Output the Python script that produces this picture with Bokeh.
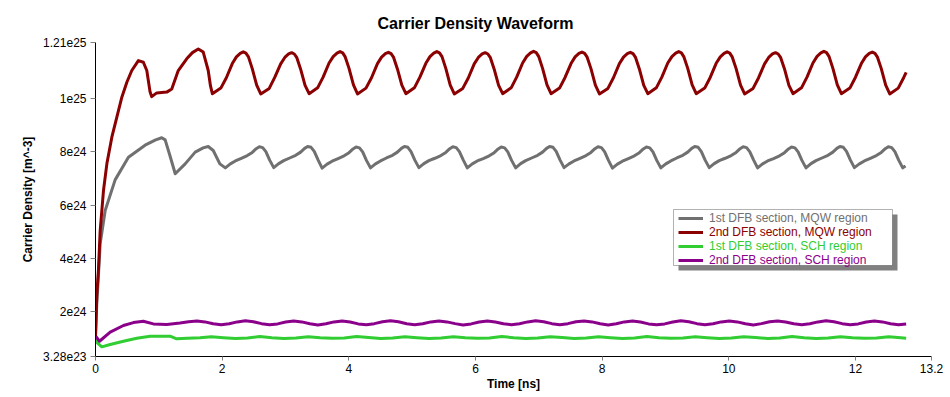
import numpy as np
from bokeh.plotting import figure
from bokeh.models import (Range1d, FixedTicker, CustomJSTickFormatter, Legend,
                          LegendItem, BoxAnnotation)
from bokeh.embed import file_html
from bokeh.resources import INLINE

# ---------------- data (time in ns, density in units of 1e24 m^-3) ----------------
x_ticks = [0, 2, 4, 6, 8, 10, 12, 13.2]
y_ticks = [3.28e23, 2e24, 4e24, 6e24, 8e24, 1e25, 1.21e25]

series_labels = ["1st DFB section, MQW region", "2nd DFB section, MQW region",
                 "1st DFB section, SCH region", "2nd DFB section, SCH region"]
series_colors = ["#707070", "#8B0000", "#32CD32", "#8B008B"]

t_red = [
    0.000, 0.020, 0.047, 0.074, 0.126, 0.180, 0.258, 0.337, 0.416, 0.495,
    0.573, 0.677, 0.756, 0.810, 0.862, 0.888, 0.967, 1.125, 1.204, 1.307,
    1.440, 1.530, 1.623, 1.701, 1.780, 1.815,
    1.845, 1.979, 2.066, 2.160, 2.225, 2.285, 2.333, 2.375, 2.415, 2.475, 2.545,
    2.609, 2.743, 2.830, 2.924, 2.989, 3.049, 3.097, 3.139, 3.179, 3.239, 3.309,
    3.373, 3.507, 3.594, 3.688, 3.753, 3.813, 3.861, 3.903, 3.943, 4.003, 4.073,
    4.137, 4.271, 4.358, 4.452, 4.517, 4.577, 4.625, 4.667, 4.707, 4.767, 4.837,
    4.901, 5.035, 5.122, 5.216, 5.281, 5.341, 5.389, 5.431, 5.471, 5.531, 5.601,
    5.665, 5.799, 5.886, 5.980, 6.045, 6.105, 6.153, 6.195, 6.235, 6.295, 6.365,
    6.429, 6.563, 6.650, 6.744, 6.809, 6.869, 6.917, 6.959, 6.999, 7.059, 7.129,
    7.193, 7.327, 7.414, 7.508, 7.573, 7.633, 7.681, 7.723, 7.763, 7.823, 7.893,
    7.957, 8.091, 8.178, 8.272, 8.337, 8.397, 8.445, 8.487, 8.527, 8.587, 8.657,
    8.721, 8.855, 8.942, 9.036, 9.101, 9.161, 9.209, 9.251, 9.291, 9.351, 9.421,
    9.485, 9.619, 9.706, 9.800, 9.865, 9.925, 9.973, 10.015, 10.055, 10.115, 10.185,
    10.249, 10.383, 10.470, 10.564, 10.629, 10.689, 10.737, 10.779, 10.819, 10.879, 10.949,
    11.013, 11.147, 11.234, 11.328, 11.393, 11.453, 11.501, 11.543, 11.583, 11.643, 11.713,
    11.777, 11.911, 11.998, 12.092, 12.157, 12.217, 12.265, 12.307, 12.347, 12.407, 12.477,
    12.541, 12.675, 12.762, 12.800]
red_e24 = [
    1.10, 2.60, 3.60, 5.05, 6.55, 7.56, 8.55, 9.30, 10.05, 10.61,
    11.05, 11.42, 11.36, 11.05, 10.24, 10.07, 10.21, 10.24, 10.36, 11.05,
    11.49, 11.72, 11.86, 11.74, 11.05, 10.48,
    10.18, 10.39, 10.78, 11.31, 11.56, 11.69, 11.75, 11.70, 11.56, 11.12, 10.50,
    10.17, 10.38, 10.79, 11.30, 11.54, 11.67, 11.72, 11.67, 11.53, 11.10, 10.49,
    10.18, 10.40, 10.80, 11.33, 11.57, 11.70, 11.76, 11.71, 11.56, 11.13, 10.51,
    10.17, 10.39, 10.78, 11.31, 11.55, 11.68, 11.73, 11.68, 11.54, 11.11, 10.50,
    10.18, 10.40, 10.80, 11.32, 11.57, 11.70, 11.76, 11.71, 11.57, 11.13, 10.50,
    10.17, 10.38, 10.77, 11.30, 11.54, 11.67, 11.72, 11.67, 11.53, 11.10, 10.49,
    10.18, 10.40, 10.80, 11.33, 11.58, 11.71, 11.77, 11.72, 11.57, 11.13, 10.51,
    10.18, 10.39, 10.79, 11.31, 11.56, 11.69, 11.74, 11.69, 11.55, 11.12, 10.50,
    10.17, 10.38, 10.78, 11.31, 11.55, 11.68, 11.73, 11.68, 11.54, 11.11, 10.49,
    10.18, 10.40, 10.80, 11.33, 11.57, 11.70, 11.76, 11.71, 11.56, 11.13, 10.51,
    10.18, 10.39, 10.79, 11.32, 11.56, 11.69, 11.75, 11.70, 11.55, 11.12, 10.50,
    10.17, 10.38, 10.78, 11.30, 11.54, 11.67, 11.72, 11.67, 11.53, 11.11, 10.49,
    10.18, 10.40, 10.80, 11.33, 11.58, 11.71, 11.77, 11.72, 11.57, 11.13, 10.51,
    10.18, 10.39, 10.79, 11.31, 11.56, 11.69, 11.74, 11.69, 11.55, 11.12, 10.50,
    10.17, 10.39, 10.79, 10.98]

t_gray = [
    0.000, 0.020, 0.047, 0.074, 0.153, 0.310, 0.520, 0.783, 0.950, 1.046,
    1.100, 1.170, 1.259, 1.416, 1.574, 1.700, 1.780, 1.859, 1.964,
    2.050, 2.129, 2.208, 2.302, 2.397, 2.475, 2.538, 2.586, 2.640, 2.690, 2.750,
    2.814, 2.893, 2.972, 3.066, 3.161, 3.239, 3.302, 3.350, 3.404, 3.454, 3.514,
    3.578, 3.657, 3.736, 3.830, 3.925, 4.003, 4.066, 4.114, 4.168, 4.218, 4.278,
    4.342, 4.421, 4.500, 4.594, 4.689, 4.767, 4.830, 4.878, 4.932, 4.982, 5.042,
    5.106, 5.185, 5.264, 5.358, 5.453, 5.531, 5.594, 5.642, 5.696, 5.746, 5.806,
    5.870, 5.949, 6.028, 6.122, 6.217, 6.295, 6.358, 6.406, 6.460, 6.510, 6.570,
    6.634, 6.713, 6.792, 6.886, 6.981, 7.059, 7.122, 7.170, 7.224, 7.274, 7.334,
    7.398, 7.477, 7.556, 7.650, 7.745, 7.823, 7.886, 7.934, 7.988, 8.038, 8.098,
    8.162, 8.241, 8.320, 8.414, 8.509, 8.587, 8.650, 8.698, 8.752, 8.802, 8.862,
    8.926, 9.005, 9.084, 9.178, 9.273, 9.351, 9.414, 9.462, 9.516, 9.566, 9.626,
    9.690, 9.769, 9.848, 9.942, 10.037, 10.115, 10.178, 10.226, 10.280, 10.330, 10.390,
    10.454, 10.533, 10.612, 10.706, 10.801, 10.879, 10.942, 10.990, 11.044, 11.094, 11.154,
    11.218, 11.297, 11.376, 11.470, 11.565, 11.643, 11.706, 11.754, 11.808, 11.858, 11.918,
    11.982, 12.061, 12.140, 12.234, 12.329, 12.407, 12.470, 12.518, 12.572, 12.622, 12.682,
    12.746, 12.790]
gray_e24 = [
    1.10, 2.30, 3.40, 4.55, 5.80, 6.95, 7.80, 8.25, 8.45, 8.53,
    8.45, 7.90, 7.18, 7.55, 7.99, 8.15, 8.20, 8.05, 7.55,
    7.40, 7.55, 7.66, 7.76, 7.86, 7.98, 8.12, 8.19, 8.16, 8.01, 7.69,
    7.41, 7.56, 7.67, 7.77, 7.87, 7.99, 8.13, 8.20, 8.17, 8.02, 7.70,
    7.39, 7.54, 7.65, 7.75, 7.85, 7.97, 8.11, 8.18, 8.15, 8.00, 7.68,
    7.40, 7.55, 7.66, 7.77, 7.87, 7.99, 8.13, 8.20, 8.17, 8.01, 7.69,
    7.41, 7.56, 7.67, 7.76, 7.86, 7.98, 8.12, 8.19, 8.16, 8.01, 7.70,
    7.40, 7.55, 7.66, 7.75, 7.85, 7.97, 8.11, 8.18, 8.15, 8.00, 7.68,
    7.40, 7.56, 7.67, 7.77, 7.87, 7.99, 8.13, 8.20, 8.17, 8.02, 7.70,
    7.41, 7.55, 7.66, 7.76, 7.86, 7.98, 8.12, 8.19, 8.16, 8.01, 7.69,
    7.39, 7.54, 7.65, 7.75, 7.85, 7.97, 8.11, 8.18, 8.15, 8.00, 7.68,
    7.40, 7.55, 7.66, 7.77, 7.87, 7.99, 8.13, 8.20, 8.17, 8.01, 7.69,
    7.41, 7.56, 7.67, 7.76, 7.86, 7.98, 8.12, 8.19, 8.16, 8.01, 7.70,
    7.40, 7.55, 7.66, 7.75, 7.85, 7.97, 8.11, 8.18, 8.15, 8.00, 7.68,
    7.40, 7.56, 7.67, 7.77, 7.87, 7.99, 8.13, 8.20, 8.17, 8.02, 7.70,
    7.41, 7.55, 7.66, 7.76, 7.86, 7.98, 8.12, 8.19, 8.16, 8.01, 7.69,
    7.40, 7.47]

t_purple = [
    0.000, 0.063, 0.232, 0.441, 0.599, 0.756, 0.914, 1.125, 1.334, 1.470,
    1.602, 1.729, 1.857, 1.984, 2.111, 2.239,
    2.366, 2.493, 2.621, 2.748, 2.875, 3.003,
    3.130, 3.257, 3.385, 3.512, 3.639, 3.767,
    3.894, 4.021, 4.149, 4.276, 4.403, 4.531,
    4.658, 4.785, 4.913, 5.040, 5.167, 5.295,
    5.422, 5.549, 5.677, 5.804, 5.931, 6.059,
    6.186, 6.313, 6.441, 6.568, 6.695, 6.823,
    6.950, 7.077, 7.205, 7.332, 7.459, 7.587,
    7.714, 7.841, 7.969, 8.096, 8.223, 8.351,
    8.478, 8.605, 8.733, 8.860, 8.987, 9.115,
    9.242, 9.369, 9.497, 9.624, 9.751, 9.879,
    10.006, 10.133, 10.261, 10.388, 10.515, 10.643,
    10.770, 10.897, 11.025, 11.152, 11.279, 11.407,
    11.534, 11.661, 11.789, 11.916, 12.043, 12.171,
    12.298, 12.425, 12.553, 12.680, 12.800]
purple_e24 = [
    1.10, 0.90, 1.24, 1.49, 1.60, 1.65, 1.55, 1.53, 1.58, 1.63,
    1.66, 1.625, 1.555, 1.52, 1.555, 1.625,
    1.67, 1.63, 1.56, 1.52, 1.55, 1.62,
    1.66, 1.625, 1.555, 1.51, 1.555, 1.625,
    1.66, 1.62, 1.55, 1.52, 1.56, 1.63,
    1.67, 1.63, 1.555, 1.52, 1.555, 1.625,
    1.66, 1.625, 1.56, 1.51, 1.55, 1.62,
    1.66, 1.62, 1.555, 1.52, 1.555, 1.625,
    1.67, 1.63, 1.56, 1.52, 1.56, 1.63,
    1.66, 1.625, 1.555, 1.51, 1.555, 1.625,
    1.66, 1.62, 1.55, 1.52, 1.55, 1.62,
    1.67, 1.63, 1.56, 1.52, 1.555, 1.625,
    1.66, 1.625, 1.555, 1.51, 1.56, 1.63,
    1.66, 1.62, 1.555, 1.52, 1.555, 1.625,
    1.67, 1.63, 1.56, 1.52, 1.55, 1.62,
    1.66, 1.625, 1.555, 1.52, 1.545]

t_green = [
    0.000, 0.020, 0.100, 0.232, 0.441, 0.652, 0.862, 1.177, 1.282, 1.450, 1.650,
    1.830, 2.020, 2.210, 2.400,
    2.594, 2.784, 2.974, 3.164,
    3.358, 3.548, 3.738, 3.928,
    4.122, 4.312, 4.502, 4.692,
    4.886, 5.076, 5.266, 5.456,
    5.650, 5.840, 6.030, 6.220,
    6.414, 6.604, 6.794, 6.984,
    7.178, 7.368, 7.558, 7.748,
    7.942, 8.132, 8.322, 8.512,
    8.706, 8.896, 9.086, 9.276,
    9.470, 9.660, 9.850, 10.040,
    10.234, 10.424, 10.614, 10.804,
    10.998, 11.188, 11.378, 11.568,
    11.762, 11.952, 12.142, 12.332,
    12.526, 12.716, 12.800]
green_e24 = [
    1.00, 0.86, 0.69, 0.78, 0.90, 1.01, 1.09, 1.09, 0.99, 1.01, 1.03,
    1.07, 1.03, 1.00, 1.02,
    1.08, 1.03, 1.00, 1.02,
    1.07, 1.03, 1.01, 1.02,
    1.08, 1.04, 1.00, 1.02,
    1.07, 1.03, 1.00, 1.02,
    1.07, 1.03, 1.01, 1.02,
    1.08, 1.03, 1.00, 1.02,
    1.07, 1.04, 1.00, 1.02,
    1.07, 1.03, 1.00, 1.02,
    1.08, 1.03, 1.01, 1.02,
    1.07, 1.03, 1.00, 1.02,
    1.07, 1.04, 1.00, 1.02,
    1.08, 1.03, 1.00, 1.02,
    1.07, 1.03, 1.01, 1.02,
    1.07, 1.03, 1.01]

# ---------------- figure ----------------
FONT = "Liberation Sans"

p = figure(width=944, height=394, output_backend="svg", toolbar_location=None,
           x_range=Range1d(0, 13.2), y_range=Range1d(3.28e23, 1.21e25),
           min_border_left=95, min_border_right=13, min_border_top=42,
           min_border_bottom=38, title="Carrier Density Waveform")
p.outline_line_color = None
p.background_fill_color = "white"
p.border_fill_color = "white"
p.xgrid.visible = False
p.ygrid.visible = False

p.title.text_font = FONT
p.title.text_font_size = "16px"
p.title.text_font_style = "bold"
p.title.text_color = "black"
p.title.align = "left"
p.title.offset = 282
p.title.standoff = 21

for ax in (p.xaxis[0], p.yaxis[0]):
    ax.axis_line_color = "black"
    ax.axis_line_width = 1
    ax.major_tick_line_color = "#808080"
    ax.major_tick_in = 0
    ax.minor_tick_line_color = None
    ax.major_label_text_font = FONT
    ax.major_label_text_font_size = "12px"
    ax.major_label_text_color = "black"
    ax.axis_label_text_font = FONT
    ax.axis_label_text_font_size = "12px"
    ax.axis_label_text_font_style = "bold"
    ax.axis_label_text_color = "black"

p.xaxis.ticker = FixedTicker(ticks=x_ticks)
p.yaxis.ticker = FixedTicker(ticks=y_ticks)
p.xaxis.formatter = CustomJSTickFormatter(code="return tick.toString()")
p.yaxis.formatter = CustomJSTickFormatter(code="return tick.toExponential().replace('+', '')")
p.xaxis.major_tick_out = 4
p.xaxis.major_label_standoff = 3
p.xaxis.axis_label_standoff = 1
p.yaxis.major_tick_out = 5
p.yaxis.major_label_standoff = 4
p.yaxis.axis_label_standoff = 5
p.xaxis.axis_label = "Time [ns]"
p.yaxis.axis_label = "Carrier Density [m^-3]"

ts = [t_gray, t_red, t_green, t_purple]
vs = [gray_e24, red_e24, green_e24, purple_e24]
renderers = [None] * 4
for i in (2, 3, 0, 1):
    renderers[i] = p.line(ts[i], np.array(vs[i]) * 1e24, line_color=series_colors[i],
                          line_width=3, line_join="round")

# legend frame with shadow (canvas pixel units)
p.add_layout(BoxAnnotation(left=678, right=897, top=214, bottom=270,
                           left_units="canvas", right_units="canvas",
                           top_units="canvas", bottom_units="canvas",
                           fill_color="#808080", fill_alpha=1.0, line_color=None))
p.add_layout(BoxAnnotation(left=673, right=892, top=209, bottom=265,
                           left_units="canvas", right_units="canvas",
                           top_units="canvas", bottom_units="canvas",
                           fill_color="white", fill_alpha=1.0,
                           line_color="black", line_width=1))

row_bottoms = [131.5, 117.2, 102.9, 88.6]
for i in range(4):
    leg = Legend(items=[LegendItem(label=series_labels[i], renderers=[renderers[i]])],
                 location=(583, row_bottoms[i]), padding=0, margin=0, spacing=0,
                 border_line_alpha=0, background_fill_alpha=0,
                 glyph_width=25, glyph_height=14, label_height=14, label_standoff=6,
                 label_text_font=FONT, label_text_font_size="12px",
                 label_text_color=series_colors[i])
    p.add_layout(leg)

open("out.html", "w").write(file_html(p, INLINE))
